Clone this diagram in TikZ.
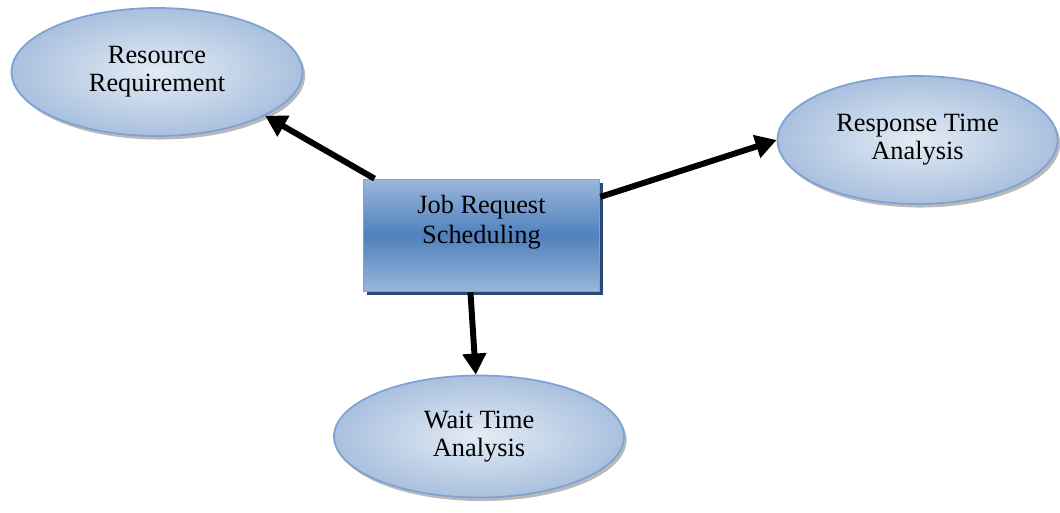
\documentclass[tikz,border=0pt]{standalone}
\usepackage{fontspec}
\setmainfont{Liberation Serif}
\usepackage{tikz}
\usetikzlibrary{shapes, arrows.meta, positioning, shadows}

\definecolor{ovalline}{HTML}{7EA3D2}
\definecolor{ovalin}{HTML}{E3EBF5}
\definecolor{ovalout}{HTML}{A9C0DE}
\definecolor{boxline}{HTML}{7FA2CF}
\definecolor{boxlight}{HTML}{9AB6DA}
\definecolor{boxmid}{HTML}{4F81BD}
\definecolor{boxshadow}{HTML}{2B4A73}

\tikzset{
	oval/.style={ellipse, draw=ovalline, line width=1pt, inner sep=0pt,
		inner color=ovalin, outer color=ovalout, align=center,
		font=\fontsize{15}{16}\selectfont,
		drop shadow={shadow xshift=1.5pt, shadow yshift=-2pt, fill=gray!55, opacity=1}},
	jobbox/.style={rectangle, draw=boxline, line width=1pt, inner sep=0pt,
		top color=boxlight, bottom color=boxlight, middle color=boxmid,
		align=center, font=\fontsize{15}{17}\selectfont, text depth=18pt,
		drop shadow={shadow xshift=2pt, shadow yshift=-2pt, fill=boxshadow, opacity=1}},
	link/.style={line width=3.4pt, -{Triangle[length=12pt, width=13pt]}}
}

\begin{document}
\begin{tikzpicture}
	\useasboundingbox (0,0) rectangle (21.2,10.24);
	\node[jobbox, minimum width=4.72cm, minimum height=2.24cm] (job) at (9.63,5.53) {Job Request\\Scheduling};
	\node[oval, minimum width=5.82cm, minimum height=2.56cm] (res) at (3.14,8.80) {Resource\\Requirement};
	\node[oval, minimum width=5.6cm, minimum height=2.56cm] (rta) at (18.35,7.44) {Response Time\\Analysis};
	\node[oval, minimum width=5.8cm, minimum height=2.44cm] (wta) at (9.58,1.51) {Wait Time\\Analysis};
	\draw[link] (job.152) -- (res.-22);
	\draw[link] (job.18) -- (rta.180);
	\draw[link] (job.-101) -- (wta.93);
\end{tikzpicture}
\end{document}
